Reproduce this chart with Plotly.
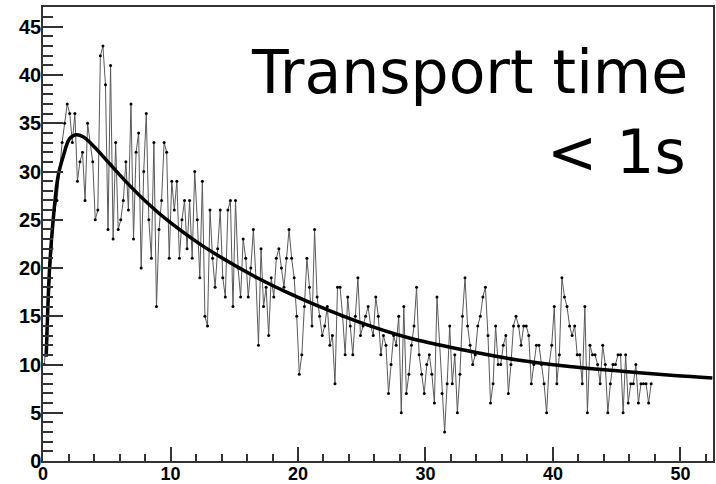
import numpy as np
import plotly.graph_objects as go

# Histogram of transport-time counts, 0.2-wide bins starting at 0
bin_start = 0.0
bin_width = 0.2
counts = [
    10, 13, 18, 22, 26,
    27, 30, 33, 35, 37,
    36, 33, 36, 29, 31,
    32, 27, 35, 33, 31,
    25, 26, 42, 43, 39,
    24, 41, 23, 33, 24,
    25, 27, 31, 26, 37,
    23, 32, 34, 20, 30,
    36, 25, 21, 33, 16,
    24, 27, 33, 32, 21,
    29, 26, 29, 21, 25,
    27, 22, 27, 21, 30,
    25, 19, 29, 15, 14,
    26, 21, 18, 22, 26,
    19, 17, 26, 27, 16,
    27, 20, 17, 23, 21,
    17, 20, 24, 19, 12,
    22, 16, 18, 13, 19,
    17, 21, 22, 20, 18,
    21, 24, 21, 19, 15,
    9, 11, 16, 21, 18,
    14, 24, 17, 15, 13,
    14, 16, 12, 13, 8,
    18, 18, 15, 11, 17,
    14, 11, 15, 19, 13,
    14, 15, 16, 14, 13,
    17, 15, 11, 13, 12,
    7, 10, 13, 12, 15,
    5, 16, 7, 9, 12,
    14, 18, 11, 9, 7,
    10, 11, 9, 6, 17,
    12, 7, 3, 8, 14,
    8, 11, 5, 9, 15,
    19, 14, 12, 10, 11,
    14, 15, 17, 18, 13,
    6, 8, 14, 10, 10,
    12, 13, 7, 10, 14,
    15, 14, 12, 14, 14,
    13, 8, 10, 12, 12,
    10, 8, 5, 10, 12,
    16, 8, 11, 19, 17,
    16, 14, 13, 14, 11,
    11, 8, 16, 5, 12,
    11, 11, 10, 8, 12,
    10, 5, 8, 10, 10,
    11, 11, 5, 11, 6,
    8, 8, 10, 6, 8,
    8, 8, 6, 8,
]
bin_centers = bin_start + bin_width * (np.arange(len(counts)) + 0.5)

# Fitted curve, sampled points
fit_x = [0.25, 0.52, 0.78, 1.18, 1.57, 2.09, 2.61, 3.14, 3.92, 5.23, 6.54,
         8.3, 9.8, 12.4, 16.5, 19.1, 21.7, 24.8, 28.6, 33.0, 37.1, 41.3,
         45.4, 49.5, 52.5]
fit_y = [10.8, 20.1, 24.7, 29.5, 31.5, 33.4, 33.8, 33.6, 32.7, 30.8, 28.9,
         26.6, 24.9, 22.4, 19.2, 17.5, 16.0, 14.4, 12.8, 11.5, 10.5, 9.8,
         9.3, 8.85, 8.6]

x_range = [0, 52.55]
y_range = [0, 47.05]
x_ticks = [0, 10, 20, 30, 40, 50]
y_ticks = [0, 5, 10, 15, 20, 25, 30, 35, 40, 45]

fig = go.Figure()
fig.add_trace(go.Scatter(
    x=bin_centers, y=counts, mode="lines+markers",
    line=dict(color="#5a5a5a", width=1),
    marker=dict(color="black", size=3),
    showlegend=False, hoverinfo="skip",
))
fig.add_trace(go.Scatter(
    x=fit_x, y=fit_y, mode="lines",
    line=dict(color="black", width=3.5, shape="spline", smoothing=1.0),
    showlegend=False, hoverinfo="skip",
))

axis_col = "#333333"
label_family = "Liberation Sans, Arial, sans-serif"
fig.update_xaxes(
    range=x_range, showgrid=False, zeroline=False, automargin=False,
    showline=True, linecolor=axis_col, linewidth=1.5, mirror=True,
    ticks="inside", ticklen=14, tickwidth=1.5, tickcolor=axis_col,
    tickmode="array", tickvals=x_ticks,
    ticktext=[str(v) for v in x_ticks],
    minor=dict(ticks="inside", ticklen=7, dtick=2, tick0=0,
               tickwidth=1.5, tickcolor=axis_col),
    tickfont=dict(family=label_family, size=18, color="black", weight="bold"),
    ticklabelstandoff=-4,
)
fig.update_yaxes(
    range=y_range, showgrid=False, zeroline=False, automargin=False,
    showline=True, linecolor=axis_col, linewidth=1.5, mirror=True,
    ticks="inside", ticklen=20, tickwidth=1.5, tickcolor=axis_col,
    tickmode="array", tickvals=y_ticks,
    ticktext=[str(v) for v in y_ticks],
    minor=dict(ticks="inside", ticklen=10, dtick=1, tick0=0,
               tickwidth=1.5, tickcolor=axis_col),
    tickfont=dict(family=label_family, size=20, color="black", weight="bold"),
    ticklabelstandoff=-4,
)

fig.add_annotation(
    text="Transport time", xref="paper", yref="paper",
    x=0.966, y=0.856, xanchor="right", yanchor="middle", showarrow=False,
    font=dict(family="DejaVu Sans", size=60, color="black"),
)
fig.add_annotation(
    text="< 1s", xref="paper", yref="paper",
    x=0.963, y=0.68, xanchor="right", yanchor="middle", showarrow=False,
    font=dict(family="DejaVu Sans", size=60, color="black"),
)

fig.update_layout(
    width=716, height=484,
    margin=dict(l=43, r=3, t=7, b=23),
    paper_bgcolor="white", plot_bgcolor="white",
)

fig.write_html("out.html")
